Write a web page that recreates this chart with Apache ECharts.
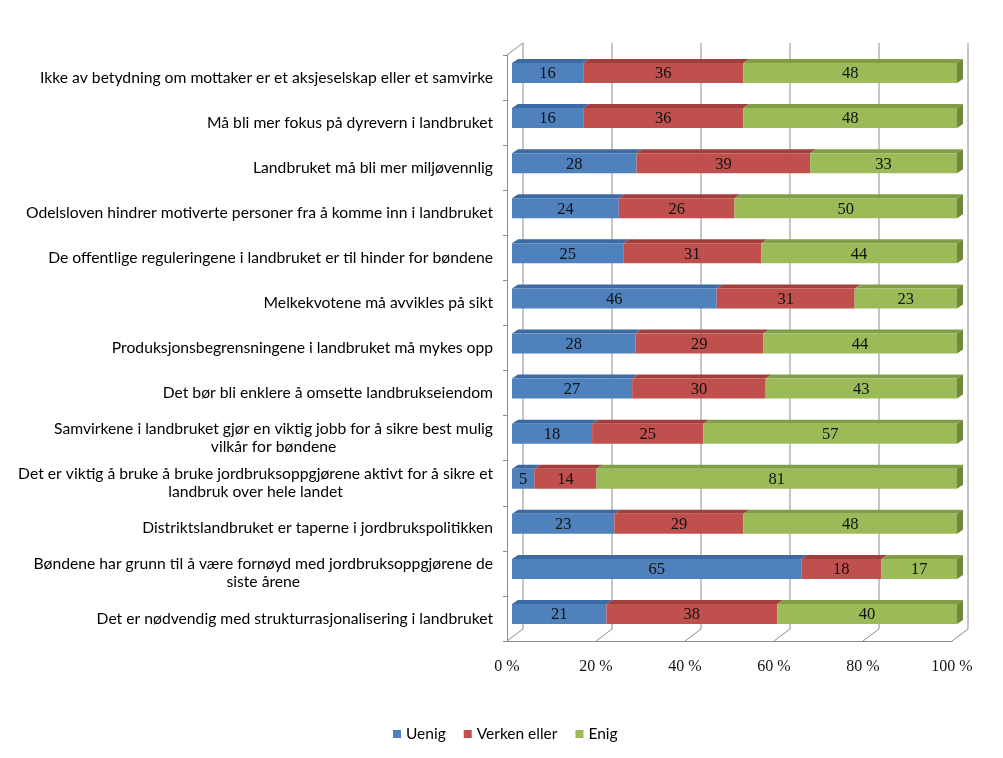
<!DOCTYPE html>
<html>
<head>
<meta charset="utf-8">
<script src="https://cdn.jsdelivr.net/npm/echarts@6/dist/echarts.min.js"></script>
<style>html,body{margin:0;padding:0;background:#fff;}#c{width:1003px;height:758px;}</style>
</head>
<body>
<div id="c"></div>
<script>
const categories = [
  'Ikke av betydning om mottaker er et aksjeselskap eller et samvirke',
  'Må bli mer fokus på dyrevern i landbruket',
  'Landbruket må bli mer miljøvennlig',
  'Odelsloven hindrer motiverte personer fra å komme inn i landbruket',
  'De offentlige reguleringene i landbruket er til hinder for bøndene',
  'Melkekvotene må avvikles på sikt',
  'Produksjonsbegrensningene i landbruket må mykes opp',
  'Det bør bli enklere å omsette landbrukseiendom',
  'Samvirkene i landbruket gjør en viktig jobb for å sikre best mulig\nvilkår for bøndene',
  'Det er viktig å bruke å bruke jordbruksoppgjørene aktivt for å sikre et\nlandbruk over hele landet',
  'Distriktslandbruket er taperne i jordbrukspolitikken',
  'Bøndene har grunn til å være fornøyd med jordbruksoppgjørene de\nsiste årene',
  'Det er nødvendig med strukturrasjonalisering i landbruket'
];
const uenig  = [16, 16, 28, 24, 25, 46, 28, 27, 18, 5, 23, 65, 21];
const verken = [36, 36, 39, 26, 31, 31, 29, 30, 25, 14, 29, 18, 38];
const enig   = [48, 48, 33, 50, 44, 23, 44, 43, 57, 81, 48, 17, 40];
const xTicks = [0, 20, 40, 60, 80, 100];
const seriesNames = ['Uenig', 'Verken eller', 'Enig'];

const groups = [uenig, verken, enig];
const front = ['#4F81BD', '#C0504D', '#9BBB59'];
const topC  = ['#3c6aa3', '#a23f3c', '#809e46'];
const sideC = ['#35608f', '#8e3836', '#6e8a3a'];

// build segments [catIndex, start, end, raw]
function segments(k) {
  return categories.map((c, i) => {
    const tot = uenig[i] + verken[i] + enig[i];
    let s = 0;
    for (let j = 0; j < k; j++) s += groups[j][i];
    const e = s + groups[k][i];
    return [i, s / tot * 100, e / tot * 100, groups[k][i]];
  });
}

const BH = 20, OX = 5, OY = -4.5, DX = 6, DY = -4;
function barRender(k) {
  return function (params, api) {
    const cat = api.value(0);
    const p0 = api.coord([api.value(1), cat]);
    const p1 = api.coord([api.value(2), cat]);
    const x = p0[0] + OX, y = p0[1] + OY - BH / 2, w = p1[0] - p0[0];
    const children = [
      { type: 'polygon', shape: { points: [[x, y], [x + DX, y + DY], [x + w + DX, y + DY], [x + w, y]] },
        style: { fill: topC[k] } },
      { type: 'rect', shape: { x: x, y: y, width: w, height: BH }, style: { fill: front[k] } },
      { type: 'text', style: { text: String(api.value(3)), x: x + w / 2, y: y + BH / 2 + 1,
          align: 'center', verticalAlign: 'middle', fontFamily: 'Liberation Serif', fontSize: 16.5, fill: '#111' } }
    ];
    if (k === 2) {
      children.push({ type: 'polygon', shape: { points: [[x + w, y], [x + w + DX, y + DY], [x + w + DX, y + BH + DY], [x + w, y + BH]] },
        style: { fill: sideC[k] } });
    }
    return { type: 'group', children: children };
  };
}

const FX = 16, FY = -12;
function frameRender(params, api) {
  const cs = params.coordSys;
  const x = api.coord([api.value(0), 0])[0];
  const top = cs.y, bot = cs.y + cs.height;
  const ls = { stroke: '#8c8c8c', lineWidth: 1 };
  const ch = [
    { type: 'line', shape: { x1: x + FX, y1: top + FY, x2: x + FX, y2: bot + FY }, style: ls },
    { type: 'line', shape: { x1: x, y1: bot, x2: x + FX, y2: bot + FY }, style: ls }
  ];
  if (api.value(0) === 0) {
    ch.push({ type: 'line', shape: { x1: x, y1: top, x2: x + FX, y2: top + FY }, style: ls });
  }
  return { type: 'group', children: ch };
}

const series = [
  { type: 'custom', name: 'frame', silent: true, z: 1, renderItem: frameRender,
    data: xTicks.map(v => [v]), encode: { x: 0 } }
];
seriesNames.forEach((n, k) => {
  series.push({ type: 'custom', name: n, z: 3, renderItem: barRender(k), itemStyle: { color: front[k] },
    data: segments(k), encode: { x: [1, 2], y: 0 } });
});

const chart = echarts.init(document.getElementById('c'));
chart.setOption({
  animation: false,
  backgroundColor: '#fff',
  grid: { left: 507, right: 51, top: 55, bottom: 117 },
  xAxis: {
    type: 'value', min: 0, max: 100, interval: 20,
    axisLine: { show: true, lineStyle: { color: '#8c8c8c' } },
    axisTick: { show: false }, splitLine: { show: false },
    axisLabel: { formatter: v => v + ' %', fontFamily: 'Liberation Serif', fontSize: 16, color: '#111', margin: 18 }
  },
  yAxis: {
    type: 'category', data: categories, inverse: true,
    axisLine: { show: true, lineStyle: { color: '#8c8c8c' } },
    axisTick: { show: true, length: 4, lineStyle: { color: '#8c8c8c' } },
    splitLine: { show: false },
    axisLabel: {
      margin: 14, align: 'right',
      formatter: v => v.split('\n').map(s => '{c|' + s + '}').join('\n'),
      rich: { c: { align: 'center', fontFamily: 'Lato', fontSize: 15.7, color: '#000', lineHeight: 18 } }
    }
  },
  legend: {
    data: seriesNames, left: 388, top: 721, icon: 'rect', itemWidth: 8, itemHeight: 8, itemGap: 18,
    textStyle: { fontFamily: 'Lato', fontSize: 15.5, color: '#000' }
  },
  series: series
});
</script>
</body>
</html>
